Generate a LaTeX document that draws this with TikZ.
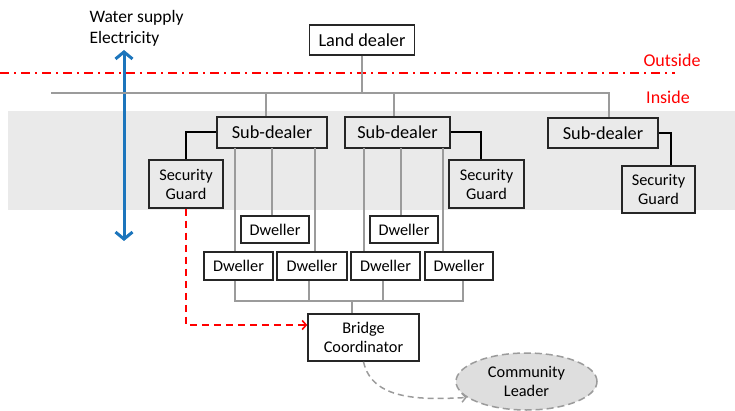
\documentclass[tikz,border=0pt]{standalone}
\usepackage{fontspec}
\setmainfont{Carlito}
\usetikzlibrary{arrows.meta,shapes.geometric}
\definecolor{bandgray}{RGB}{234,234,234}
\definecolor{linegray}{RGB}{155,155,155}
\definecolor{flowblue}{RGB}{28,117,188}
\definecolor{leadergray}{RGB}{222,222,222}
\begin{document}
\begin{tikzpicture}[x = 1pt, y = -1pt,
                    rnode/.style = {shape = rectangle,
                                    draw = black!85,
                                    line width = 1.5pt,
                                    inner sep = 1pt,
                                    align = center,
                                    fill = white,
                                    font = \fontsize{16.3}{19}\selectfont},
                    bnode/.style = {rnode,
                                    font = \fontsize{18.3}{21}\selectfont},
                    feed/.style = {draw = linegray, line width = 1.1pt},
                    guard/.style = {draw = black, line width = 2pt},
                    rtext/.style = {text = red, font = \fontsize{18}{21}\selectfont}]
		\useasboundingbox (0,0) rectangle (735,411);
		\fill[bandgray] (8,111) rectangle (735,210);
		\draw[red, line width = 1.6pt, dash pattern = on 9pt off 5pt on 2pt off 5pt] (0,73) -- (675,73);
		\node[rtext] (out) at (672,60) {Outside};
		\node[rtext] (in) at (668,97) {Inside};
		\node[anchor = north west, align = left, font = \fontsize{17.5}{21}\selectfont] (util) at (86,7) {Water supply\\Electricity};
		\coordinate (up) at (124,50);
		\coordinate (down) at (124,241);
		\draw[flowblue, line width = 3pt, {Straight Barb[length=7pt,width=17pt]}-{Straight Barb[length=7pt,width=17pt]}] (up) -- (down);
		\node[bnode, minimum width = 105pt, minimum height = 30pt] (land) at (362,40) {Land dealer};
		\node[bnode, fill = bandgray, minimum width = 110pt, minimum height = 31pt] (sd1) at (272,132.5) {Sub-dealer};
		\node[bnode, fill = bandgray, minimum width = 105pt, minimum height = 31pt] (sd2) at (397.5,132.5) {Sub-dealer};
		\node[bnode, fill = bandgray, minimum width = 110pt, minimum height = 30pt] (sd3) at (603,133) {Sub-dealer};
		\node[rnode, fill = bandgray, minimum width = 74pt, minimum height = 48pt] (sg1) at (186,184) {Security\\Guard};
		\node[rnode, fill = bandgray, minimum width = 75pt, minimum height = 48pt] (sg2) at (486.5,184) {Security\\Guard};
		\node[rnode, fill = bandgray, minimum width = 73pt, minimum height = 47pt] (sg3) at (658.5,189.5) {Security\\Guard};
		\node[rnode, minimum width = 68pt, minimum height = 27pt] (ud1) at (275,229.5) {Dweller};
		\node[rnode, minimum width = 68pt, minimum height = 27pt] (ud2) at (404,229.5) {Dweller};
		\node[rnode, minimum width = 69pt, minimum height = 28pt] (ld1) at (238.5,266) {Dweller};
		\node[rnode, minimum width = 70pt, minimum height = 28pt] (ld2) at (312,266) {Dweller};
		\node[rnode, minimum width = 69pt, minimum height = 28pt] (ld3) at (385.5,266) {Dweller};
		\node[rnode, minimum width = 68pt, minimum height = 28pt] (ld4) at (459,266) {Dweller};
		\node[rnode, minimum width = 111pt, minimum height = 47pt] (bc) at (363.5,337.5) {Bridge\\Coordinator};
		\node[rnode, shape = ellipse, draw = linegray, dash pattern = on 7pt off 4pt, fill = leadergray, minimum width = 141pt, minimum height = 57pt] (cl) at (526.5,381.5) {Community\\Leader};
		\coordinate (busl) at (51,93);
		\coordinate (busr) at (609,93);
		\coordinate (drop1) at (266,93);
		\coordinate (drop2) at (394,93);
		\draw[feed] (busl) -- (busr) -- (busr |- sd3.north);
		\draw[feed] (land.south) -- (land.south |- busl);
		\draw[feed] (drop1) -- (drop1 |- sd1.north);
		\draw[feed] (drop2) -- (drop2 |- sd2.north);
		\draw[guard] (sd1.west) -| (sg1.north);
		\draw[guard] (sd2.east) -| ([xshift = -6pt]sg2.north);
		\draw[guard] (sd3.east) -| ([xshift = 12pt]sg3.north);
		\coordinate (t1) at (235,148);
		\coordinate (t2) at (272,148);
		\coordinate (t3) at (315,148);
		\coordinate (t4) at (364,148);
		\coordinate (t5) at (401,148);
		\coordinate (t6) at (443,148);
		\draw[feed] (t1) -- (t1 |- ld1.north);
		\draw[feed] (t2) -- (t2 |- ud1.north);
		\draw[feed] (t3) -- (t3 |- ld2.north);
		\draw[feed] (t4) -- (t4 |- ld3.north);
		\draw[feed] (t5) -- (t5 |- ud2.north);
		\draw[feed] (t6) -- (t6 |- ld4.north);
		\coordinate (b1) at (235,301);
		\coordinate (b2) at (309,301);
		\coordinate (b3) at (383,301);
		\coordinate (b4) at (463,301);
		\coordinate (join) at (352,301);
		\draw[feed] (b1 |- ld1.south) -- (b1) -- (b4) -- (b4 |- ld4.south);
		\draw[feed] (b2 |- ld2.south) -- (b2);
		\draw[feed] (b3 |- ld3.south) -- (b3);
		\draw[feed] (join) -- (join |- bc.north);
		\draw[red, line width = 1.6pt, dash pattern = on 7pt off 5pt, -{Straight Barb[length=4pt,width=9pt]}] (sg1.south) |- ([yshift = 12.5pt]bc.west);
		\draw[linegray, line width = 1.5pt, dash pattern = on 6pt off 4pt, -{Straight Barb[length=4pt,width=9pt]}] (bc.south) .. controls (372,400) and (420,400) .. (cl.195);
	\end{tikzpicture}
\end{document}
